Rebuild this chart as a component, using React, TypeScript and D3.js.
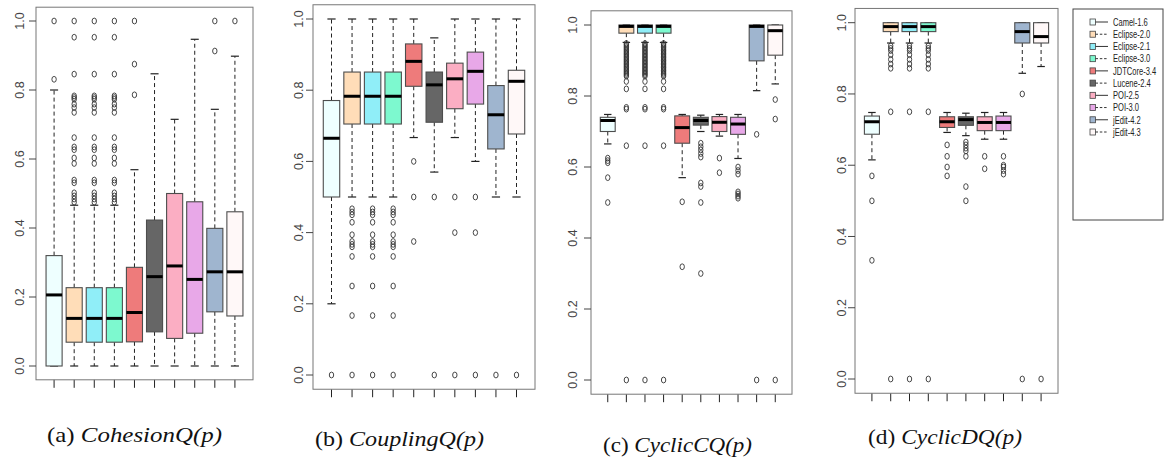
import React from "react";
import * as d3 from "d3";

const categories = ["Camel-1.6", "Eclipse-2.0", "Eclipse-2.1", "Eclipse-3.0", "JDTCore-3.4", "Lucene-2.4", "POI-2.5", "POI-3.0", "jEdit-4.2", "jEdit-4.3"];
const fillColors = ["#EEFFFF", "#FFDDB8", "#90EEF8", "#7DF9CF", "#EE7B7B", "#666666", "#FBAEC3", "#E8A8E8", "#9FB5CF", "#FFF8F8"];
const legendDashed = [false, true, false, true, false, true, false, true, false, true];
const yTicks = [0, 0.2, 0.4, 0.6, 0.8, 1.0];

// (a) CohesionQ(p)
const cohesionLow = [0, 0, 0, 0, 0, 0, 0, 0, 0, 0];
const cohesionQ1 = [0, 0.069, 0.069, 0.069, 0.07, 0.099, 0.08, 0.095, 0.157, 0.145];
const cohesionMed = [0.206, 0.138, 0.138, 0.138, 0.155, 0.259, 0.29, 0.251, 0.273, 0.273];
const cohesionQ3 = [0.32, 0.227, 0.227, 0.227, 0.286, 0.423, 0.5, 0.476, 0.399, 0.447];
const cohesionHigh = [0.8, 0.466, 0.466, 0.466, 0.569, 0.847, 0.715, 0.947, 0.744, 0.898];
const cohesionEclipseOut = [1.0, 0.953, 0.846, 0.783, 0.778, 0.773, 0.759, 0.749, 0.735, 0.662, 0.635, 0.627, 0.603, 0.587, 0.539, 0.531, 0.502, 0.493, 0.484, 0.475];
const cohesionOut = [[0.831, 1.0], cohesionEclipseOut, cohesionEclipseOut, cohesionEclipseOut, [1.0, 0.875, 0.786], [], [], [], [1.0, 0.913], [1.0]];

// (b) CouplingQ(p)
const couplingLow = [0.2, 0.5, 0.5, 0.5, 0.667, 0.57, 0.667, 0.6, 0.5, 0.5];
const couplingQ1 = [0.5, 0.705, 0.705, 0.705, 0.811, 0.71, 0.748, 0.761, 0.635, 0.677];
const couplingMed = [0.665, 0.783, 0.783, 0.783, 0.881, 0.815, 0.832, 0.853, 0.731, 0.825];
const couplingQ3 = [0.771, 0.851, 0.851, 0.851, 0.93, 0.851, 0.876, 0.907, 0.813, 0.856];
const couplingHigh = [1, 1, 1, 1, 1, 0.947, 1, 1, 1, 1];
const couplingEclipseOut = [0.467, 0.458, 0.45, 0.429, 0.394, 0.375, 0.367, 0.36, 0.333, 0.25, 0.167, 0];
const couplingOut = [[0], couplingEclipseOut, couplingEclipseOut, couplingEclipseOut, [0.6, 0.5, 0.375], [0.5, 0], [0.5, 0.4, 0], [0.5, 0.4, 0], [0], [0]];

// (c) CyclicCQ(p)
const cyclicCLow = [0.665, 0.951, 0.951, 0.951, 0.57, 0.7, 0.687, 0.624, 0.815, 0.834];
const cyclicCQ1 = [0.7, 0.977, 0.977, 0.977, 0.667, 0.718, 0.7, 0.692, 0.899, 0.915];
const cyclicCMed = [0.731, 0.996, 0.996, 0.996, 0.711, 0.731, 0.726, 0.721, 0.996, 0.984];
const cyclicCQ3 = [0.74, 1, 1, 1, 0.744, 0.74, 0.742, 0.74, 1, 1];
const cyclicCHigh = [0.748, 1, 1, 1, 0.748, 0.746, 0.748, 0.748, 1, 1];
const cyclicCEclipseOut = [0.948, 0.944, 0.94, 0.936, 0.932, 0.928, 0.924, 0.92, 0.916, 0.912, 0.908, 0.904, 0.9, 0.896, 0.892, 0.888, 0.884, 0.88, 0.876, 0.872, 0.868, 0.864, 0.86, 0.856, 0.841, 0.82, 0.768, 0.763, 0.66, 0];
const cyclicCOut = [[0.625, 0.618, 0.612, 0.57, 0.5], cyclicCEclipseOut, cyclicCEclipseOut, cyclicCEclipseOut, [0.502, 0.319], [0.667, 0.657, 0.648, 0.638, 0.628, 0.555, 0.545, 0.5, 0.3], [0.625, 0.584], [0.6, 0.59, 0.58, 0.53, 0.524, 0.518, 0.512], [0.692, 0], [0.79, 0.735, 0]];

// (d) CyclicDQ(p)
const cyclicDLow = [0.615, 0.943, 0.943, 0.943, 0.692, 0.683, 0.673, 0.673, 0.858, 0.877];
const cyclicDQ1 = [0.687, 0.975, 0.975, 0.975, 0.706, 0.712, 0.697, 0.697, 0.943, 0.943];
const cyclicDMed = [0.722, 0.989, 0.989, 0.989, 0.722, 0.728, 0.72, 0.72, 0.975, 0.961];
const cyclicDQ3 = [0.738, 1, 1, 1, 0.736, 0.736, 0.736, 0.738, 1, 1];
const cyclicDHigh = [0.748, 1, 1, 1, 0.748, 0.746, 0.748, 0.748, 1, 1];
const cyclicDEclipseOut = [0.935, 0.928, 0.922, 0.91, 0.897, 0.884, 0.872, 0.75, 0];
const cyclicDOut = [[0.57, 0.5, 0.333], cyclicDEclipseOut, cyclicDEclipseOut, cyclicDEclipseOut, [0.657, 0.625, 0.595, 0.57], [0.665, 0.657, 0.648, 0.64, 0.625, 0.54, 0.5], [0.625, 0.59], [0.625, 0.6, 0.595, 0.585, 0.575], [0.8, 0], [0]];

const captionLetters = ["(a) ", "(b) ", "(c) ", "(d) "];
const captionNames = ["CohesionQ(p)", "CouplingQ(p)", "CyclicCQ(p)", "CyclicDQ(p)"];

const panels = [
  { low: cohesionLow, q1: cohesionQ1, med: cohesionMed, q3: cohesionQ3, high: cohesionHigh, out: cohesionOut,
    left: 36, right: 253, y0: 366, y1: 21, labelX: 20, cap: { x: 47, w: 175, y: 442 } },
  { low: couplingLow, q1: couplingQ1, med: couplingMed, q3: couplingQ3, high: couplingHigh, out: couplingOut,
    left: 313, right: 535, y0: 375, y1: 19, labelX: 299, cap: { x: 315, w: 169, y: 446 } },
  { low: cyclicCLow, q1: cyclicCQ1, med: cyclicCMed, q3: cyclicCQ3, high: cyclicCHigh, out: cyclicCOut,
    left: 591, right: 792, y0: 380, y1: 25, labelX: 573, cap: { x: 603, w: 149, y: 452 } },
  { low: cyclicDLow, q1: cyclicDQ1, med: cyclicDMed, q3: cyclicDQ3, high: cyclicDHigh, out: cyclicDOut,
    left: 855, right: 1058, y0: 379, y1: 22.7, labelX: 842, cap: { x: 868, w: 154, y: 444 } },
];

const sans = "Liberation Sans";
const serif = "Liberation Serif";

function Panel({ p, pi }: { p: any; pi: number }) {
  const yv = d3.scaleLinear().domain([0, 1]).range([p.y0, p.y1]);
  const x = d3.scaleLinear().domain([0.1, 10.9]).range([p.left, p.right]);
  const top = yv(1.04);
  const bottom = yv(-0.04);
  const unit = x(1) - x(0);
  const bw = unit * 0.8;
  const sw = unit * 0.4;
  return (
    <g>
      {categories.map((c, i) => {
        const cx = x(i + 1);
        return (
          <g key={c}>
            <line x1={cx} x2={cx} y1={yv(p.q3[i])} y2={yv(p.high[i])} stroke="#222" strokeWidth={1} strokeDasharray="4,3" />
            <line x1={cx} x2={cx} y1={yv(p.q1[i])} y2={yv(p.low[i])} stroke="#222" strokeWidth={1} strokeDasharray="4,3" />
            <line x1={cx - sw / 2} x2={cx + sw / 2} y1={yv(p.high[i])} y2={yv(p.high[i])} stroke="#222" strokeWidth={1.2} />
            <line x1={cx - sw / 2} x2={cx + sw / 2} y1={yv(p.low[i])} y2={yv(p.low[i])} stroke="#222" strokeWidth={1.2} />
            <rect x={cx - bw / 2} y={yv(p.q3[i])} width={bw} height={Math.max(0.5, yv(p.q1[i]) - yv(p.q3[i]))}
              fill={fillColors[i]} stroke="#4d4d4d" strokeWidth={1.1} />
            <line x1={cx - bw / 2} x2={cx + bw / 2} y1={yv(p.med[i])} y2={yv(p.med[i])} stroke="#000" strokeWidth={3} />
            {p.out[i].map((v: number, k: number) => (
              <ellipse key={k} cx={cx} cy={yv(v)} rx={2.2} ry={2.9} fill="none" stroke="#333" strokeWidth={0.9} />
            ))}
            <line x1={cx} x2={cx} y1={bottom} y2={bottom + 8} stroke="#222" strokeWidth={1} />
          </g>
        );
      })}
      <rect x={p.left} y={top} width={p.right - p.left} height={bottom - top} fill="none" stroke="#777" strokeWidth={1} />
      {yTicks.map((t) => (
        <g key={t}>
          <line x1={p.left - 7} x2={p.left} y1={yv(t)} y2={yv(t)} stroke="#444" strokeWidth={1} />
          <text transform={`translate(${p.labelX},${yv(t)}) rotate(-90)`} dy="0.35em" textAnchor="middle"
            fontFamily={sans} fontSize={12.5} fill="#444">{t.toFixed(1)}</text>
        </g>
      ))}
      <text x={p.cap.x} y={p.cap.y} fontFamily={serif} fontSize={21} fill="#111"
        textLength={p.cap.w} lengthAdjust="spacingAndGlyphs">
        <tspan>{captionLetters[pi]}</tspan>
        <tspan fontStyle="italic">{captionNames[pi]}</tspan>
      </text>
    </g>
  );
}

function Legend() {
  const lx = 1073, ly = 9, lw = 90, lh = 211;
  const y = d3.scaleLinear().domain([0, 9]).range([22, 132]);
  return (
    <g>
      <rect x={lx} y={ly} width={lw} height={lh} fill="#fff" stroke="#444" strokeWidth={1} />
      {categories.map((c, i) => (
        <g key={c}>
          <rect x={1090} y={y(i) - 3} width={5.5} height={6} fill={fillColors[i]} stroke="#444" strokeWidth={0.8} />
          <line x1={1095.5} x2={1108} y1={y(i)} y2={y(i)} stroke="#333" strokeWidth={1}
            strokeDasharray={legendDashed[i] ? "2.5,1.8" : undefined} />
          <text transform={`translate(1113,${y(i)}) scale(0.72,1)`} dy="0.36em" fontFamily={sans} fontSize={10.5} fill="#222">{c}</text>
        </g>
      ))}
    </g>
  );
}

export default function App() {
  return (
    <svg width={1165} height={461} style={{ position: "absolute", left: 0, top: 0, background: "#fff" }}>
      <rect width={1165} height={461} fill="#fff" />
      {panels.map((p, i) => (
        <Panel key={i} p={p} pi={i} />
      ))}
      <Legend />
    </svg>
  );
}
